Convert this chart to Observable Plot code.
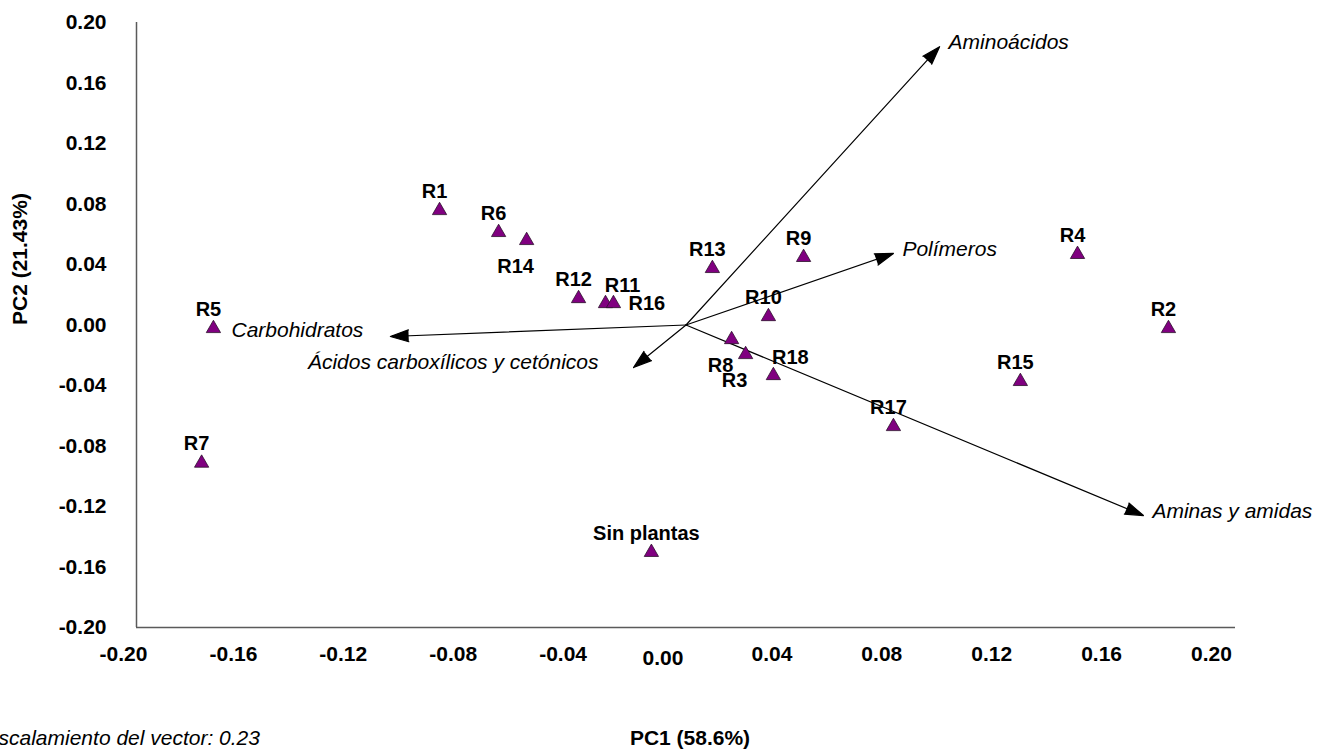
<!DOCTYPE html>
<html><head><meta charset="utf-8">
<script src="https://cdn.jsdelivr.net/npm/d3@7"></script>
<script src="https://cdn.jsdelivr.net/npm/@observablehq/plot@0.6"></script>
<style>body{margin:0;background:#fff;overflow:hidden}</style>
</head><body><div id="chart"></div>
<script>
// Samples (scores)
const sampleNames = ["R1","R2","R3","R4","R5","R6","R7","R8","R9","R10","R11","R12","R13","R14","R15","R16","R17","R18","Sin plantas"];
const pc1 = [-0.0897, 0.1756, 0.0217, 0.1425, -0.1720, -0.0682, -0.1763, 0.0166, 0.0428, 0.0300, -0.0293, -0.0391, 0.0096, -0.0580, 0.1217, -0.0264, 0.0755, 0.0318, -0.0126];
const pc2 = [0.0757, -0.0023, -0.0195, 0.0467, -0.0023, 0.0612, -0.0913, -0.0096, 0.0447, 0.0056, 0.0142, 0.0175, 0.0374, 0.0559, -0.0373, 0.0142, -0.0671, -0.0334, -0.1503];
// Loadings (vectors, scaled)
const vectorNames = ["Aminoácidos","Polímeros","Aminas y amidas","Carbohidratos","Ácidos carboxílicos y cetónicos"];
const vectorPC1 = [0.0923, 0.0755, 0.1665, -0.1076, -0.0191];
const vectorPC2 = [0.1840, 0.0473, -0.1260, -0.0076, -0.0281];
// Ticks and texts
const xTicks = [-0.20,-0.16,-0.12,-0.08,-0.04,0.00,0.04,0.08,0.12,0.16,0.20];
const yTicks = [-0.20,-0.16,-0.12,-0.08,-0.04,0.00,0.04,0.08,0.12,0.16,0.20];
const xTitle = "PC1 (58.6%)";
const yTitle = "PC2 (21.43%)";
const caption = "Escalamiento del vector: 0.23";

const labelsBelow = ["R14","R8","R3"];
const labelsAboveRight = ["R11","R18"];
const labelsRight = ["R16"];
const labelsLeftVec = ["Carbohidratos","Ácidos carboxílicos y cetónicos"];

const samples = sampleNames.map((name,i)=>({name, pc1: pc1[i], pc2: pc2[i]}));
const vectors = vectorNames.map((name,i)=>({name, pc1: vectorPC1[i], pc2: vectorPC2[i]}));
const fmt = d => d.toFixed(2);
const above = samples.filter(d => !labelsBelow.includes(d.name) && !labelsAboveRight.includes(d.name) && !labelsRight.includes(d.name));
const italic = {fontStyle: "italic", fontWeight: "normal", fontSize: 21};

const chart = Plot.plot({
  width: 1317, height: 749,
  marginLeft: 136, marginRight: 82, marginTop: 22, marginBottom: 122,
  style: {fontFamily: "'Liberation Sans', Arial, sans-serif", fontSize: "20px", fontWeight: "bold", background: "#fff", color: "#000"},
  x: {domain: [-0.2, 0.2], label: null},
  y: {domain: [-0.2, 0.2], label: null},
  marks: [
    Plot.ruleX([-0.2], {stroke: "#5a5a5a", strokeWidth: 1.5}),
    Plot.ruleY([-0.2], {stroke: "#5a5a5a", strokeWidth: 1.5}),
    Plot.axisY(yTicks, {tickSize: 0, tickPadding: 30, tickFormat: fmt, label: null, fontSize: 21}),
    Plot.axisX(xTicks.filter(v => v < 0), {tickSize: 0, tickPadding: 19, dx: -13, tickFormat: fmt, label: null, fontSize: 21}),
    Plot.axisX(xTicks.filter(v => v === 0), {tickSize: 0, tickPadding: 23, dx: -23, tickFormat: fmt, label: null, fontSize: 21}),
    Plot.axisX(xTicks.filter(v => v > 0), {tickSize: 0, tickPadding: 19, dx: -24, tickFormat: fmt, label: null, fontSize: 21}),
    Plot.arrow(vectors, {x1: d => 0, y1: d => 0, x2: "pc1", y2: "pc2", stroke: "#000", fill: "#000", strokeWidth: 1.2, headLength: 24, headAngle: 36}),
    Plot.text(vectors.filter(d => !labelsLeftVec.includes(d.name)), {x: "pc1", y: "pc2", text: "name", textAnchor: "start", dx: 9, dy: -4, ...italic}),
    Plot.text(vectors.filter(d => d.name === labelsLeftVec[0]), {x: "pc1", y: "pc2", text: "name", textAnchor: "end", dx: -27, dy: -6, ...italic}),
    Plot.text(vectors.filter(d => d.name === labelsLeftVec[1]), {x: "pc1", y: "pc2", text: "name", textAnchor: "end", dx: -35, dy: -5, ...italic}),
    Plot.dot(samples, {x: "pc1", y: "pc2", symbol: "triangle", r: 5.3, fill: "#800080", stroke: "#2b102b", strokeWidth: 0.8}),
    Plot.text(above, {x: "pc1", y: "pc2", text: "name", dx: -5, dy: -19}),
    Plot.text(samples.filter(d => labelsBelow.includes(d.name)), {x: "pc1", y: "pc2", text: "name", dx: -11, dy: 26}),
    Plot.text(samples.filter(d => labelsAboveRight.includes(d.name)), {x: "pc1", y: "pc2", text: "name", dx: 17, dy: -18}),
    Plot.text(samples.filter(d => labelsRight.includes(d.name)), {x: "pc1", y: "pc2", text: "name", textAnchor: "start", dx: 15, dy: 0}),
    Plot.text([xTitle], {frameAnchor: "bottom", dx: 4, dy: 117, fontSize: 21}),
    Plot.text([yTitle], {frameAnchor: "left", dx: -116, rotate: -90, fontSize: 21}),
    Plot.text([caption], {frameAnchor: "bottom-left", textAnchor: "start", dx: -152, dy: 117, ...italic})
  ]
});
document.getElementById("chart").appendChild(chart);
</script>
</body></html>
